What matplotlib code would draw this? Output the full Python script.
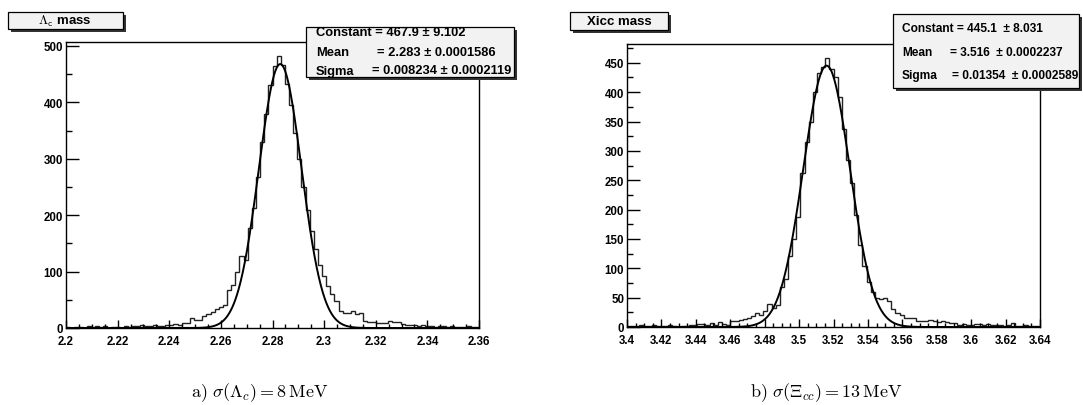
import numpy as np
import matplotlib
matplotlib.use("Agg")
import matplotlib.pyplot as plt
from matplotlib.patches import Rectangle
from matplotlib.ticker import MultipleLocator, FuncFormatter

# ---------------- data ----------------
lc_range = (2.20, 2.36)
lc_counts = [1, 0, 2, 1, 0, 3, 2, 4, 1, 3, 0, 1,
             2, 0, 3, 2, 4, 3, 5, 4,
             4, 5, 4, 4, 6, 5,
             7, 6, 9, 8,
             17, 15, 15, 21, 24, 28, 33, 37,
             41, 68, 76, 100, 127, 120, 178, 212,
             268, 330, 380, 430, 464, 482, 466, 432, 395, 345, 300, 250,
             210, 172, 140, 112, 92, 74, 60, 47, 30, 26, 26, 31, 25, 26,
             13, 10, 10, 9, 9, 8, 13, 10, 10, 7, 6, 6, 5, 4, 5, 3, 4, 2,
             3, 4, 2, 3, 2, 1, 2, 3, 1, 2]
lc_fit = dict(const=467.9, mean=2.283, sigma=0.008234)
lc_fit_err = dict(const="9.102", mean="0.0001586", sigma="0.0002119")

xi_range = (3.40, 3.64)
xi_counts = [2, 1, 2, 3, 1, 2, 3, 1, 2, 1, 3, 1, 0, 2, 1, 4, 4, 5, 5, 3,
             6, 3, 9, 5, 4,
             10, 11, 12, 14, 16, 18, 24, 21, 28, 39, 32, 38, 68, 82, 121,
             150, 187, 262, 315, 350, 400, 432, 442, 459, 440, 425, 392, 337,
             285, 245, 190, 140, 104, 76, 60, 50, 47, 50, 44, 30, 24, 21, 16,
             16, 15, 10, 10, 11, 12, 11, 9, 10, 9, 6, 6, 4, 5, 4, 4, 5, 5, 4,
             5, 4, 3, 4, 2, 3, 6, 2, 1, 4, 2, 1, 1]
xi_fit = dict(const=445.1, mean=3.516, sigma=0.01354)
xi_fit_err = dict(const="8.031", mean="0.0002237", sigma="0.0002589")

lc_yticks = [0, 100, 200, 300, 400, 500]
xi_yticks = [0, 50, 100, 150, 200, 250, 300, 350, 400, 450]

titles = [r"$\mathsf{\Lambda}_\mathsf{c}$ mass", "Xicc mass"]
captions = [r"$\mathrm{a)}\ \sigma(\Lambda_c) = 8\,\mathrm{MeV}$",
            r"$\mathrm{b)}\ \sigma(\Xi_{cc}) = 13\,\mathrm{MeV}$"]

# ---------------- figure ----------------
W, H = 1083, 406
plt.rcParams['font.family'] = ['Liberation Sans', 'DejaVu Sans']
plt.rcParams['mathtext.fontset'] = 'cm'
fig = plt.figure(figsize=(W / 100, H / 100), dpi=100)
fig.patch.set_facecolor('white')


def fx(px):
    return px / W


def fy(py):
    return 1 - py / H


def add_box(x0, y0, x1, y1, shadow=3, fc='#f2f2f2'):
    fig.add_artist(Rectangle((fx(x0 + shadow), fy(y1 + shadow)), fx(x1 - x0), (y1 - y0) / H,
                             transform=fig.transFigure, facecolor='#333333',
                             edgecolor='none', zorder=10))
    fig.add_artist(Rectangle((fx(x0), fy(y1)), fx(x1 - x0), (y1 - y0) / H,
                             transform=fig.transFigure, facecolor=fc,
                             edgecolor='black', lw=0.9, zorder=11))


def make_panel(rect_px, rng, counts, fit, yticks, ymax, yminor):
    x0, y0, x1, y1 = rect_px
    ax = fig.add_axes([fx(x0), fy(y1), fx(x1 - x0), (y1 - y0) / H])
    n = len(counts)
    edges = np.linspace(rng[0], rng[1], n + 1)
    ax.stairs(counts, edges, color='#222222', lw=1.0, baseline=None)
    xs = np.linspace(rng[0], rng[1], 800)
    ys = fit['const'] * np.exp(-0.5 * ((xs - fit['mean']) / fit['sigma']) ** 2)
    ax.plot(xs, ys, color='black', lw=1.4)
    ax.set_xlim(*rng)
    ax.set_ylim(0, ymax)
    ax.xaxis.set_major_locator(MultipleLocator(0.02))
    ax.xaxis.set_minor_locator(MultipleLocator(0.005))
    ax.xaxis.set_major_formatter(FuncFormatter(lambda v, p: ('%.2f' % v).rstrip('0').rstrip('.')))
    ax.set_yticks(yticks)
    ax.yaxis.set_minor_locator(MultipleLocator(yminor))
    ax.tick_params(axis='both', which='both', direction='in', top=False, right=False,
                   labelsize=8.3, width=1.0)
    ax.tick_params(axis='x', which='major', length=6, pad=5)
    ax.tick_params(axis='x', which='minor', length=3)
    ax.tick_params(axis='y', which='major', length=9, pad=2)
    ax.tick_params(axis='y', which='minor', length=4.5)
    for lab in ax.get_xticklabels() + ax.get_yticklabels():
        lab.set_fontweight('bold')
    for s in ax.spines.values():
        s.set_linewidth(1.0)
    return ax


make_panel((66, 43, 479, 329), lc_range, lc_counts, lc_fit, lc_yticks, 507, 50)
make_panel((627, 45, 1040, 328), xi_range, xi_counts, xi_fit, xi_yticks, 482, 25)

# title boxes
add_box(8, 13, 123, 30)
fig.text(fx(65), fy(21.5), titles[0], ha='center', va='center', fontsize=9.5,
         fontweight='bold', zorder=12)
add_box(570, 13, 668, 31)
fig.text(fx(619), fy(22), titles[1], ha='center', va='center', fontsize=9.5,
         fontweight='bold', zorder=12)

# stats boxes
add_box(306, 28, 514, 78)
fs = 9.3
fig.text(fx(316), fy(33.5), u"Constant = %.1f \u00b1 %s" % (lc_fit['const'], lc_fit_err['const']),
         ha='left', va='center', fontsize=fs, fontweight='bold', zorder=12)
fig.text(fx(316), fy(52.5), "Mean", ha='left', va='center', fontsize=fs, fontweight='bold', zorder=12)
fig.text(fx(377), fy(52.5), u"= %.3f \u00b1 %s" % (lc_fit['mean'], lc_fit_err['mean']),
         ha='left', va='center', fontsize=fs, fontweight='bold', zorder=12)
fig.text(fx(316), fy(71.5), "Sigma", ha='left', va='center', fontsize=fs, fontweight='bold', zorder=12)
fig.text(fx(372), fy(71.5), u"= %.6f \u00b1 %s" % (lc_fit['sigma'], lc_fit_err['sigma']),
         ha='left', va='center', fontsize=fs, fontweight='bold', zorder=12)

add_box(893, 15, 1079, 89)
fs2 = 8.6
fig.text(fx(902), fy(29), u"Constant = %.1f  \u00b1 %s" % (xi_fit['const'], xi_fit_err['const']),
         ha='left', va='center', fontsize=fs2, fontweight='bold', zorder=12)
fig.text(fx(902), fy(53), "Mean", ha='left', va='center', fontsize=fs2, fontweight='bold', zorder=12)
fig.text(fx(950), fy(53), u"= %.3f  \u00b1 %s" % (xi_fit['mean'], xi_fit_err['mean']),
         ha='left', va='center', fontsize=fs2, fontweight='bold', zorder=12)
fig.text(fx(902), fy(76), "Sigma", ha='left', va='center', fontsize=fs2, fontweight='bold', zorder=12)
fig.text(fx(952), fy(76), u"= %.5f  \u00b1 %s" % (xi_fit['sigma'], xi_fit_err['sigma']),
         ha='left', va='center', fontsize=fs2, fontweight='bold', zorder=12)

# captions
fig.text(fx(260), fy(393), captions[0], ha='center', va='center', fontsize=13)
fig.text(fx(826), fy(393), captions[1], ha='center', va='center', fontsize=13)

fig.savefig("out.png", dpi=100)
